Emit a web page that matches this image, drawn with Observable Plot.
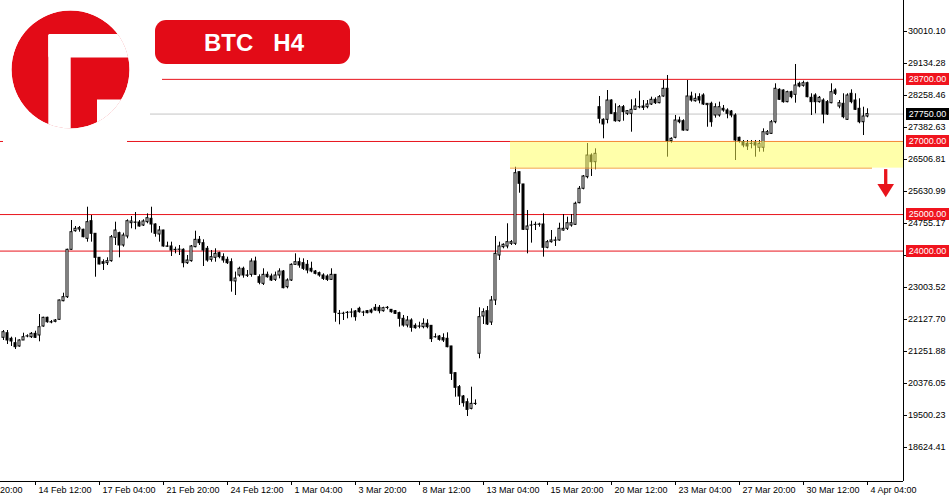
<!DOCTYPE html>
<html><head><meta charset="utf-8">
<script src="https://cdn.jsdelivr.net/npm/d3@7"></script>
<script src="https://cdn.jsdelivr.net/npm/@observablehq/plot@0.6"></script>
<style>
html,body{margin:0;padding:0;background:#fff;}
#wrap{position:relative;width:950px;height:500px;overflow:hidden;}
#overlay{position:absolute;left:0;top:0;}
</style></head><body>
<div id="wrap"><div id="chart"></div>
<svg id="overlay" width="360" height="150" viewBox="0 0 360 150">
  <rect x="3" y="0" width="124" height="143" fill="#fff"/>
  <defs><clipPath id="cc"><circle cx="70.5" cy="69.5" r="59"/></clipPath></defs>
  <g clip-path="url(#cc)">
    <circle cx="70.5" cy="69.5" r="59" fill="#e30b17"/>
    <rect x="48.3" y="34" width="22.4" height="100" rx="1.5" fill="#fff"/>
    <rect x="48.3" y="34" width="90" height="23.5" rx="1.5" fill="#fff"/>
    <rect x="97" y="99.5" width="40" height="40" fill="#fff"/>
  </g>
  <rect x="155" y="20" width="195" height="44" rx="11" fill="#e30b17"/>
  <text x="204" y="51" fill="#fff" font-family="'Liberation Sans', Arial, sans-serif" font-weight="bold" font-size="24" style="white-space:pre" xml:space="preserve">BTC   H4</text>
</svg>
</div>
<script>
// OHLC, H4 bars (weekends skipped), index = bar number
const opens = [21627,21752,21599,21479,21389,21553,21662,21643,21735,21690,21936,22174,22053,22064,22119,22628,22738,24035,24544,24591,24583,24336,24818,24473,23816,23696,23669,23724,24363,24490,24153,24399,24763,24782,24782,24700,24791,24883,24728,24454,24563,24126,24126,24035,24035,24035,23669,23724,24107,24308,24216,24062,23761,23816,23943,23834,23761,23696,23168,23332,23515,23332,23350,23715,23285,23104,23350,23304,23213,23332,23441,23012,23195,23624,23696,23669,23624,23515,23441,23395,23332,23304,23213,23350,22283,22283,22311,22319,22347,22420,22319,22355,22374,22447,22447,22355,22447,22392,22355,22301,22146,21963,22100,21954,21936,21918,22009,21954,21643,21662,21617,21599,21389,20658,20275,20020,19864,19682,19819,21189,22210,22355,22045,22648,23879,24107,24126,24199,24199,26159,25823,24583,24700,24719,24719,24728,24090,24244,24282,24290,24563,24610,24700,24719,25311,25705,26023,26616,26433,27938,27593,27593,28121,27774,27555,27938,27757,27757,27867,27938,27957,27938,28012,28141,28048,28231,28442,27008,27101,27574,27555,27300,28231,28102,28213,28258,27995,28031,27711,27711,27894,27848,27820,27711,27101,26981,26936,26936,26953,26827,26827,27191,27209,27527,28414,28395,28076,28349,28277,28578,28524,28595,28195,28258,28076,28121,28076,28048,28395,27957,28031,27593,28305,28121,27894,27527,27684];
const highs = [21826,21826,21643,21627,21572,21752,21709,21771,21807,22264,22190,22190,22100,22127,22660,22847,24052,24837,24673,24673,24599,25201,24974,24480,23820,23761,23816,24426,24791,24517,24490,24856,24946,25056,24837,24856,25020,25201,24747,24673,24570,24244,24244,24107,24153,24062,23879,24153,24544,24399,24308,24126,24016,24062,23970,23925,23834,23788,23425,23560,23560,23469,23788,23834,23350,23515,23425,23370,23425,23515,23469,23240,23651,23925,23806,23788,23742,23696,23469,23425,23378,23350,23515,23355,22374,22327,22347,22420,22374,22464,22355,22374,22420,22538,22510,22464,22483,22395,22374,22328,22237,22210,22146,22009,22053,22146,22119,21958,21735,21690,21735,21763,21392,20662,20321,20047,19957,20275,19928,22448,22420,22483,22757,24399,24244,24199,24747,24290,26296,26162,25826,25111,24818,24791,24763,25020,24290,24563,24380,24763,25001,24928,25001,25339,25768,26069,26945,26662,26799,28231,27621,28395,28141,28031,27985,27985,27848,28141,28168,28376,28121,28121,28213,28195,28258,28669,28806,27101,27711,27665,27593,28669,28349,28305,28305,28305,28031,28076,28031,28076,27985,27894,27848,27757,27117,27027,27027,27027,27027,27027,27346,27300,27574,28578,28442,28414,28376,28376,29107,28623,28650,28623,28305,28305,28231,28168,28121,28578,28442,28121,28305,28305,28414,28305,28168,27938,27894];
const lows = [21553,21443,21389,21306,21370,21553,21627,21607,21607,21517,21917,22026,22010,22037,22100,22612,22702,24016,24517,24517,24363,24244,24244,23285,23624,23469,23605,23696,24153,23816,24107,24336,24610,24583,24654,24673,24747,24490,24380,24244,24107,24107,23852,23925,23879,23542,23633,23696,24090,24153,23578,23696,23696,23696,23788,23669,23633,22875,22784,23285,23258,23277,23285,23332,23077,23058,23258,23168,23168,23240,22967,22967,23168,23605,23531,23469,23378,23405,23350,23285,23195,23168,23195,22053,21982,22100,22146,22174,22081,22301,22210,22283,22283,22355,22283,22328,22392,22301,22264,21918,21918,21900,21780,21862,21872,21872,21872,21498,21617,21534,21498,21353,20458,20001,19774,19728,19472,19654,19774,21052,21991,21963,21963,22511,23742,24062,24062,24153,24153,25584,24563,23925,24217,24563,24654,23834,24062,24217,24126,24271,24544,24563,24654,24700,25295,25677,25978,26042,26225,27484,27073,27484,27738,27527,27527,27555,27711,27254,27848,27894,27848,27894,27985,28012,28031,28213,26570,26953,27073,27484,27281,27281,28076,28076,28031,27985,27390,27390,27638,27665,27801,27621,27648,26479,26953,26827,26753,26799,26570,26707,26707,27163,27191,27484,28121,28048,28059,28168,28048,28469,28486,28195,27711,27757,28048,27484,27711,28031,28258,27894,27621,27574,28031,27848,27484,27163,27648];
const closes = [21780,21553,21526,21370,21553,21643,21667,21735,21627,21917,22174,22053,22045,22100,22648,22738,24035,24517,24610,24627,24380,24791,24473,23816,23633,23651,23724,24380,24563,24153,24426,24818,24810,24775,24673,24810,24900,24728,24473,24563,24126,24120,24016,24030,24040,23669,23742,24126,24308,24216,24016,23742,23834,23925,23834,23742,23669,23176,23249,23515,23332,23325,23715,23350,23132,23350,23285,23195,23332,23441,22985,23195,23624,23696,23605,23515,23469,23441,23378,23332,23240,23213,23350,22311,22280,22285,22308,22316,22191,22328,22315,22301,22319,22374,22355,22437,22443,22328,22283,22146,21963,22100,21900,21890,21932,22009,21918,21590,21640,21572,21553,21370,20641,20258,20020,19837,19654,19819,19815,22191,22328,21991,22648,23925,24126,24172,24244,24244,26132,25842,24583,24673,24697,24716,24728,24090,24244,24290,24290,24610,24610,24763,24763,25295,25705,26042,26616,26433,26662,27621,27465,28121,27757,27555,27938,27801,27829,27867,27957,27935,27921,28012,28141,28048,28213,28442,27008,27073,27574,27527,27300,28231,28121,28168,28121,28012,28030,27527,27938,27938,27848,27757,27711,27027,27008,26890,26863,26932,26890,26936,27254,27254,27527,28442,28141,28076,28349,28213,28532,28505,28595,28213,28076,28076,28195,27738,27738,28349,28305,28048,27665,28258,28076,27867,27527,27684,27750];

// time axis: bar number of each label and its text
const xTickBars = [-8, 8, 24, 40, 56, 72, 88, 104, 120, 136, 152, 168, 184, 200, 216];
const xTickLabels = ["9 Feb 20:00","14 Feb 12:00","17 Feb 04:00","21 Feb 20:00","24 Feb 12:00","1 Mar 04:00","3 Mar 20:00","8 Mar 12:00","13 Mar 04:00","15 Mar 20:00","20 Mar 12:00","23 Mar 04:00","27 Mar 20:00","30 Mar 12:00","4 Apr 04:00"];

// price axis
const yTicks = [30010.10, 29134.28, 28258.46, 27382.63, 26506.81, 25630.99, 24755.17, 23879.35, 23003.52, 22127.70, 21251.88, 20376.05, 19500.23, 18624.41];

// horizontal levels
const levelPrices = [28700, 27750, 27000, 25000, 24000];
const levelStartBars = [39.75, 36.75, -0.75, -0.75, -0.75];
const levelColors = ["#e8141c", "#c4c4c4", "#e8141c", "#e8141c", "#e8141c"];

// price tags on the right scale
const tagPrices = [28700, 27750, 27000, 25000, 24000];
const tagColors = ["#f0141e", "#000000", "#f0141e", "#f0141e", "#f0141e"];

// highlighted zone and arrow
const zoneLow = 26270, zoneHigh = 27000, zoneStartBar = 126.75, zoneLineEndBar = 217.25;
const arrowBar = 220.675, arrowFrom = 26230, arrowTo = 25460;

const xMin = -0.75, xMax = 225;
const yMin = 17693.5, yMax = 30858.5;

const bars = opens.map((o, i) => ({i, o, h: highs[i], l: lows[i], c: closes[i]}));
const levels = levelPrices.map((p, k) => ({p, from: levelStartBars[k], to: xMax, color: levelColors[k]}));
const labelOf = new Map(xTickBars.map((b, k) => [b, xTickLabels[k]]));
// a scale label hidden under a price tag is not shown (as on the terminal)
const yPerPx = (yMax - yMin) / 481;
const yLabelTicks = yTicks.filter(t => !tagPrices.some(p => Math.abs(p - t) < 5 * yPerPx));

function tagMark(index, scales) {
  const g = d3.create("svg:g");
  const x0 = scales.x(xMax) + 3;
  tagPrices.forEach((p, k) => {
    const yy = Math.round(scales.y(p));
    g.append("rect").attr("x", x0).attr("y", yy - 6).attr("width", 43).attr("height", 12).attr("fill", tagColors[k]);
    g.append("text").attr("x", x0 + 21.5).attr("y", yy).attr("dy", "0.36em")
      .attr("text-anchor", "middle").attr("fill", "#fff").attr("font-size", 9).text(p.toFixed(2));
  });
  return g.node();
}

function arrowMark(index, scales) {
  const g = d3.create("svg:g");
  const ax = scales.x(arrowBar);
  const y0 = scales.y(arrowFrom), y1 = scales.y(arrowTo);
  const headTop = y1 - 13.3;
  g.append("rect").attr("x", ax - 1.65).attr("y", y0).attr("width", 3.3).attr("height", headTop - y0 + 0.5).attr("fill", "#e8141c");
  g.append("path").attr("d", `M${ax - 8.3},${headTop}L${ax + 8.3},${headTop}L${ax},${y1}Z`).attr("fill", "#e8141c");
  return g.node();
}

const chart = Plot.plot({
  width: 950, height: 500,
  marginLeft: 0, marginRight: 47, marginTop: 0, marginBottom: 19,
  style: {fontFamily: "'Liberation Sans', Arial, sans-serif", fontSize: "9px", background: "#fff", color: "#000"},
  x: {type: "linear", domain: [xMin, xMax]},
  y: {type: "linear", domain: [yMin, yMax]},
  marks: [
    Plot.ruleY(levels, {y: "p", x1: "from", x2: "to", stroke: "color", strokeWidth: 1}),
    Plot.ruleX(bars, {x: "i", y1: "l", y2: "h", stroke: "#000", strokeWidth: 1}),
    Plot.rect(bars, {x1: d => d.i - 0.25, x2: d => d.i + 0.25, y1: "o", y2: "c",
      fill: d => d.c >= d.o ? "#ffffff" : "#000000", stroke: "#000", strokeWidth: 1}),
    Plot.rect([{a: zoneStartBar, b: xMax, lo: zoneLow, hi: zoneHigh}], {x1: "a", x2: "b", y1: "lo", y2: "hi", fill: "#ffff55", fillOpacity: 0.5}),
    Plot.ruleY([{p: zoneLow, a: zoneStartBar, b: zoneLineEndBar}], {y: "p", x1: "a", x2: "b", stroke: "#f3a33c", strokeWidth: 1}),
    Plot.ruleY([yMin], {stroke: "#000"}),
    Plot.ruleX([xMax], {stroke: "#000"}),
    Plot.axisX(xTickBars, {anchor: "bottom", tickSize: 4, fill: "none", label: null}),
    Plot.text(xTickBars, {x: d => d, y: yMin, dy: 9, dx: 3, textAnchor: "start", lineAnchor: "middle", text: d => labelOf.get(d), fill: "#000"}),
    Plot.axisY(yTicks, {anchor: "right", tickSize: 3, fill: "none", label: null}),
    Plot.text(yLabelTicks, {x: xMax, y: d => d, dx: 4.5, textAnchor: "start", lineAnchor: "middle", text: d => d.toFixed(2), fill: "#000"}),
    tagMark,
    arrowMark
  ]
});
document.getElementById("chart").appendChild(chart);
</script>
</body></html>
